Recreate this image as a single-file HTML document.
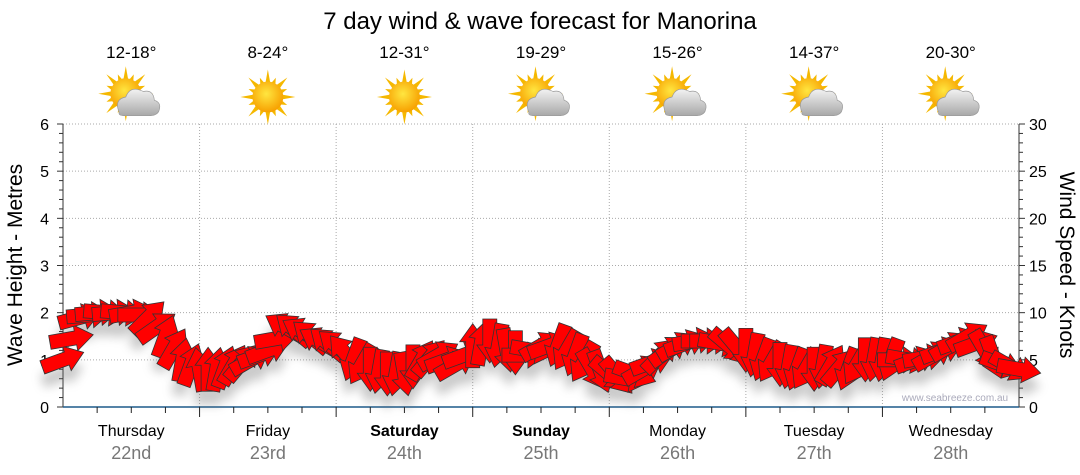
<!DOCTYPE html>
<html><head><meta charset="utf-8">
<style>
body{margin:0;background:#fff;}
svg{display:block;font-family:"Liberation Sans","DejaVu Sans",sans-serif;}
</style></head>
<body>
<svg id="chart" width="1080" height="475" viewBox="0 0 1080 475">
<defs>
<radialGradient id="sunG" cx="45%" cy="40%" r="60%"><stop offset="0" stop-color="#ffe640"/><stop offset="1" stop-color="#f7a000"/></radialGradient>
<linearGradient id="cloudG" x1="0" y1="0" x2="0" y2="1"><stop offset="0" stop-color="#f2f2f2"/><stop offset="1" stop-color="#a8a8a8"/></linearGradient>
<filter id="shadow" x="-50%" y="-50%" width="200%" height="200%"><feGaussianBlur stdDeviation="5"/></filter>
</defs>
<text x="540" y="29" text-anchor="middle" font-size="24" fill="#000">7 day wind &amp; wave forecast for Manorina</text>
<g id="grid"></g>
<g id="axes"></g>
<g id="topIcons"></g>
<g id="shadowLayer" filter="url(#shadow)" opacity="0.35"></g>
<g id="windLine"></g>
<g id="arrows"></g>
<text x="955" y="401" text-anchor="middle" font-size="10" fill="#aab">www.seabreeze.com.au</text>
<text transform="translate(22,265) rotate(-90)" text-anchor="middle" font-size="21" fill="#000">Wave Height - Metres</text>
<text transform="translate(1060,265) rotate(90)" text-anchor="middle" font-size="21" fill="#000">Wind Speed - Knots</text>
</svg>
<script>
const days = ["Thursday","Friday","Saturday","Sunday","Monday","Tuesday","Wednesday"];
const dates = ["22nd","23rd","24th","25th","26th","27th","28th"];
const boldDays = [false,false,true,true,false,false,false];
const temps = ["12-18°","8-24°","12-31°","19-29°","15-26°","14-37°","20-30°"];
const icons = ["partly","sun","sun","partly","partly","partly","partly"];
const leftTicks = [0,1,2,3,4,5,6];
const rightTicks = [0,5,10,15,20,25,30];
// wind every 3 hours from Thursday 00:00
const windKnots = [5,9.5,10,10,10,9.5,7.5,5, 4,4,4.5,5,6,8.5,8,7, 6.5,5,4,3.5,3.5,5,5.5,4.5, 6.5,7,6,5.5,6.5,6.5,5.5,4, 3.5,3,4,5.5,6.5,7,7,6.5, 6,5,4.5,4,4,4.5,4,5, 5,5,5,5.5,6.5,7.5,6,4.5,4];
const windDir = [70,75,85,85,80,45,20,10, 350,10,30,60,70,300,300,300, 310,200,180,180,170,30,60,60, 0,180,170,90,60,200,200,150, 130,100,60,45,60,80,90,130, 180,200,180,200,180,30,200,180, 190,90,70,60,60,60,150,110,100];

const NS="http://www.w3.org/2000/svg";
const X0=63,X1=1019,Y0=407,Y1=124;
const dayW=(X1-X0)/7;
const xHour=h=>X0+h/168*(X1-X0);
const yM=m=>Y0-m/6*(Y0-Y1);
const yKn=k=>yM(k/5);
function mk(tag,attrs,parent){const e=document.createElementNS(NS,tag);for(const k in attrs)e.setAttribute(k,attrs[k]);parent.appendChild(e);return e;}
const grid=document.getElementById('grid'),axes=document.getElementById('axes'),topG=document.getElementById('topIcons');

for(let m=1;m<=6;m++){
  const l=mk('line',{x1:X0,x2:X1,y1:yM(m),y2:yM(m),stroke:'#aaa','stroke-dasharray':'1,2'},grid);
  
  
}
for(let d=1;d<7;d++){
  const l=mk('line',{x1:X0+d*dayW,x2:X0+d*dayW,y1:Y1,y2:Y0,stroke:'#aaa','stroke-dasharray':'1,2'},grid);
  
  
}
mk('line',{x1:X0,x2:X0,y1:Y1,y2:Y0,stroke:'#333'},axes);
mk('line',{x1:X1,x2:X1,y1:Y1,y2:Y0,stroke:'#333'},axes);
mk('line',{x1:X0,x2:X1,y1:Y0,y2:Y0,stroke:'#1d5a8a','stroke-width':1.5},axes);
for(let i=0;i<=30;i++){
  const y=yM(i/5);
  mk('line',{x1:X0-(i%5?4:6),x2:X0,y1:y,y2:y,stroke:'#333'},axes);
  mk('line',{x1:X1,x2:X1+(i%5?4:6),y1:y,y2:y,stroke:'#333'},axes);
}
leftTicks.forEach(v=>{
  const t=mk('text',{x:X0-14,y:yM(v)+6,'text-anchor':'end','font-size':16},axes);t.textContent=v;
  
  
});
rightTicks.forEach(v=>{
  const t=mk('text',{x:X1+10,y:yKn(v)+6,'font-size':16},axes);t.textContent=v;
  
  
});
for(let h=6;h<168;h+=6){
  const major=h%24===0;
  mk('line',{x1:xHour(h),x2:xHour(h),y1:Y0,y2:Y0+(major?10:6),stroke:'#222'},axes);
}
days.forEach((d,i)=>{
  const cx=X0+(i+0.5)*dayW;
  const t=mk('text',{x:cx,y:436,'text-anchor':'middle','font-size':16,'font-weight':boldDays[i]?'bold':'normal'},axes);t.textContent=d;
  
  
  const t2=mk('text',{x:cx,y:459,'text-anchor':'middle','font-size':18,fill:'#777'},axes);t2.textContent=dates[i];
  
  
  const t3=mk('text',{x:cx,y:58,'text-anchor':'middle','font-size':17},topG);t3.textContent=temps[i];
  
  
  const g=mk('g',{transform:`translate(${cx},97) scale(1.1)`},topG);
  
  
  const sx=icons[i]==='sun'?0:-5, sy=icons[i]==='sun'?0:-3;
  for(let a=0;a<16;a++){
    const ang=a*Math.PI/8, len=a%2?19:25;
    const p1=[sx+Math.cos(ang)*len,sy+Math.sin(ang)*len];
    const q1=[sx+Math.cos(ang+0.2)*12,sy+Math.sin(ang+0.2)*12];
    const q2=[sx+Math.cos(ang-0.2)*12,sy+Math.sin(ang-0.2)*12];
    mk('polygon',{points:`${p1.join(',')} ${q1.join(',')} ${q2.join(',')}`,fill:'#f5b800'},g);
  }
  mk('circle',{cx:sx,cy:sy,r:14,fill:'url(#sunG)'},g);
  if(icons[i]!=='sun'){
    mk('path',{d:'M-11,14 Q-16,2 -5,0 Q-1,-11 11,-5 Q20,-7 21,3 Q28,5 25,13 Q23,17 16,17 L-6,17 Q-12,17 -11,14 Z',fill:'url(#cloudG)',stroke:'#999','stroke-width':0.6},g);
  }
});

const sh=document.getElementById('shadowLayer'),wl=document.getElementById('windLine'),ar=document.getElementById('arrows');
const pts=windKnots.map((k,i)=>[xHour(i*3),yKn(k)]);
const line=mk('polyline',{points:pts.map(p=>p.join(',')).join(' '),fill:'none',stroke:'#888','stroke-width':1},wl);


const arrowShape='-22,-7 4,-7 4,-13 22,0 4,13 4,7 -22,7';
windKnots.forEach((k,i)=>{
  const x=xHour(i*3),y=yKn(k),rot=windDir[i]-90;
  mk('polygon',{points:arrowShape,transform:`translate(${x},${y+14}) rotate(${rot})`,fill:'#666'},sh);
  const a=mk('polygon',{points:arrowShape,transform:`translate(${x},${y}) rotate(${rot})`,fill:'#ff0000',stroke:'#333','stroke-width':0.8},ar);
  
  
  if(i<windKnots.length-1){
    const k2=(k+windKnots[i+1])/2;
    const x2=xHour(i*3+1.5),y2=yKn(k2);
    const r2=windDir[i]-90+10;
    const b=mk('polygon',{points:arrowShape,transform:`translate(${x2},${y2}) rotate(${r2})`,fill:'#ff0000',stroke:'#333','stroke-width':0.8},ar);
    
    
  }
});
</script>
</body></html>
